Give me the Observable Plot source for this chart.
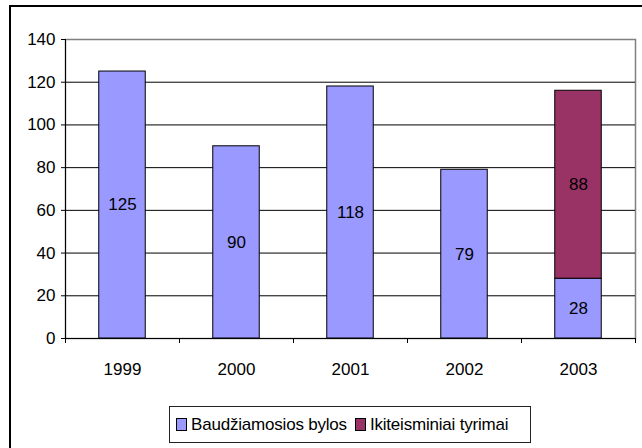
<!DOCTYPE html>
<html>
<head>
<meta charset="utf-8">
<script src="https://cdn.jsdelivr.net/npm/d3@7"></script>
<script src="https://cdn.jsdelivr.net/npm/@observablehq/plot@0.6"></script>
<style>
  html, body { margin: 0; padding: 0; background: #fff; }
  #wrap { position: relative; width: 642px; height: 448px; overflow: hidden; font-family: "Liberation Sans", Arial, sans-serif; }
  #frame { position: absolute; left: 9px; top: 5px; width: 700px; height: 500px; border: 2px solid #000; box-sizing: border-box; }
  #chart { position: absolute; left: 0; top: 0; }
  #legend { position: absolute; left: 169px; top: 406px; width: 362px; height: 37px; box-sizing: border-box;
            border: 1px solid #222; background: #fff; display: flex; align-items: center; font-size: 17px; color: #000; padding-left: 6px; letter-spacing: -0.2px; }
  .sw { width: 11px; height: 13px; border: 1px solid #000; box-sizing: border-box; margin-right: 4px; flex: none; }
  .item { display: flex; align-items: center; margin-right: 8px; white-space: nowrap; }
</style>
</head>
<body>
<div id="wrap">
  <div id="frame"></div>
  <div id="chart"></div>
  <div id="legend"></div>
</div>
<script>
// ---- data ----
const years = ["1999", "2000", "2001", "2002", "2003"];
const seriesNames = ["Baudžiamosios bylos", "Ikiteisminiai tyrimai"];
const baudziamosios = [125, 90, 118, 79, 28];
const ikiteisminiai = [null, null, null, null, 88];
const seriesColors = ["#9999FF", "#993366"];
const yTicks = [0, 20, 40, 60, 80, 100, 120, 140];

const rows = [];
years.forEach((y, i) => {
  if (baudziamosios[i] != null) rows.push({year: y, series: seriesNames[0], value: baudziamosios[i]});
  if (ikiteisminiai[i] != null) rows.push({year: y, series: seriesNames[1], value: ikiteisminiai[i]});
});

const W = 642, H = 400, mL = 65, mR = 7, mT = 39, mB = 62;
const step = (W - mL - mR) / years.length;
const barW = 46.5;
const inset = (step - barW) / 2;
const yMax = yTicks[yTicks.length - 1];

const chart = Plot.plot({
  width: W,
  height: H,
  marginLeft: mL,
  marginRight: mR,
  marginTop: mT,
  marginBottom: mB,
  style: {fontFamily: "'Liberation Sans', Arial, sans-serif", fontSize: "17px", color: "#000", background: "transparent"},
  x: {domain: years, padding: 0, axis: null, label: null},
  y: {domain: [0, yMax], axis: null, label: null},
  color: {domain: seriesNames, range: seriesColors},
  marks: [
    Plot.frame({stroke: "#808080", strokeWidth: 1.5}),
    Plot.gridY(yTicks.filter(v => v > 0 && v < yMax), {stroke: "#000", strokeOpacity: 1, strokeWidth: 1}),
    Plot.barY(rows, {x: "year", y: "value", fill: "series", stroke: "#000", strokeWidth: 1, insetLeft: inset, insetRight: inset}),
    Plot.text(rows, Plot.stackY({x: "year", y: "value", z: "series", text: d => String(d.value), fill: "#000", fontSize: 17})),
    Plot.ruleY([0], {stroke: "#000", strokeWidth: 1}),
    Plot.ruleX([years[0]], {dx: -step / 2, y1: 0, y2: yMax, stroke: "#000", strokeWidth: 1}),
    Plot.axisY({ticks: yTicks, tickSize: 4, tickPadding: 6, stroke: "#000", fontSize: 17, label: null, tickFormat: d => String(d)}),
    Plot.axisX({tickSize: 5, tickPadding: 0, text: null, label: null, dx: -step / 2, stroke: "#000"}),
    Plot.axisX([years[years.length - 1]], {tickSize: 5, text: null, label: null, dx: step / 2, stroke: "#000"}),
    Plot.axisX({tickSize: 0, tickPadding: 24, fontSize: 17, label: null, fill: "#000"})
  ]
});
document.getElementById("chart").appendChild(chart);

const legend = document.getElementById("legend");
seriesNames.forEach((name, i) => {
  const item = document.createElement("div");
  item.className = "item";
  const sw = document.createElement("div");
  sw.className = "sw";
  sw.style.background = seriesColors[i];
  const label = document.createElement("span");
  label.textContent = name;
  item.appendChild(sw);
  item.appendChild(label);
  legend.appendChild(item);
});
</script>
</body>
</html>
